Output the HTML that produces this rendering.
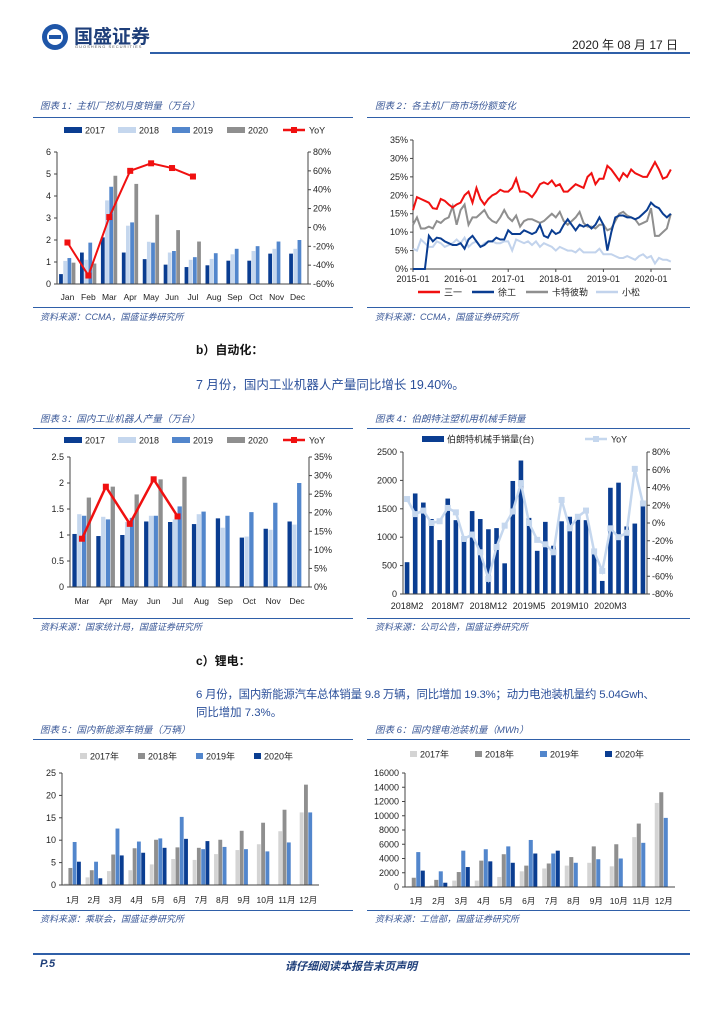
<!DOCTYPE html>
<html><head><meta charset="utf-8"><style>
body{margin:0;background:#fff;}
#page{position:relative;width:724px;height:1024px;overflow:hidden;font-family:"Liberation Sans","Noto Sans CJK SC",sans-serif;}
.t{position:absolute;white-space:nowrap;}
.cap{font-size:9.5px;color:#3b5998;font-style:italic;}
.src{font-size:9px;color:#3b5998;font-style:italic;}
.hl{position:absolute;height:2px;background:#2f5fa8;}
.hl1{position:absolute;height:1px;background:#2f5fa8;}
svg text{font-family:"Liberation Sans","Noto Sans CJK SC",sans-serif;}
</style></head><body>
<div id="page">
<svg style="position:absolute;left:40px;top:22px" width="30" height="30"><circle cx="15" cy="15" r="13" fill="#1f56a8"/><circle cx="15" cy="15" r="8" fill="#fff"/><rect x="9" y="13" width="12" height="4" fill="#1f56a8"/></svg>
<div class="t" style="left:74px;top:22px;font-size:19px;font-weight:bold;color:#1f3f7a;font-family:'Noto Sans CJK SC',sans-serif">国盛证券</div>
<div class="t" style="left:75px;top:44px;font-size:4px;color:#555;letter-spacing:1px">GUOSHENG SECURITIES</div>
<div class="hl" style="left:150px;top:52px;width:540px"></div>
<div class="t" style="left:572px;top:36px;font-size:12px;color:#222">2020 年 08 月 17 日</div>

<div class="t cap" style="left:40px;top:98px">图表 1：主机厂挖机月度销量（万台）</div>
<div class="t cap" style="left:375px;top:98px">图表 2：各主机厂商市场份额变化</div>
<div class="hl1" style="left:33px;top:117px;width:320px"></div><div class="hl1" style="left:367px;top:117px;width:323px"></div>
<div class="hl1" style="left:33px;top:307px;width:320px"></div><div class="hl1" style="left:367px;top:307px;width:323px"></div>
<div class="t src" style="left:40px;top:310px">资料来源：CCMA，国盛证券研究所</div>
<div class="t src" style="left:375px;top:310px">资料来源：CCMA，国盛证券研究所</div>

<div class="t" style="left:196px;top:341px;font-size:12px;font-weight:bold;color:#111">b）自动化：</div>
<div class="t" style="left:196px;top:374px;font-size:12.5px;color:#2a4f9a">7 月份，国内工业机器人产量同比增长 19.40%。</div>

<div class="t cap" style="left:40px;top:411px">图表 3：国内工业机器人产量（万台）</div>
<div class="t cap" style="left:375px;top:411px">图表 4：伯朗特注塑机用机械手销量</div>
<div class="hl1" style="left:33px;top:428px;width:320px"></div><div class="hl1" style="left:367px;top:428px;width:323px"></div>
<div class="hl1" style="left:33px;top:618px;width:320px"></div><div class="hl1" style="left:367px;top:618px;width:323px"></div>
<div class="t src" style="left:40px;top:620px">资料来源：国家统计局，国盛证券研究所</div>
<div class="t src" style="left:375px;top:620px">资料来源：公司公告，国盛证券研究所</div>

<div class="t" style="left:196px;top:652px;font-size:12px;font-weight:bold;color:#111">c）锂电：</div>
<div class="t" style="left:196px;top:686px;font-size:11.4px;letter-spacing:-0.2px;color:#2a4f9a">6 月份，国内新能源汽车总体销量 9.8 万辆，同比增加 19.3%；动力电池装机量约 5.04Gwh、</div>
<div class="t" style="left:196px;top:704px;font-size:11.4px;color:#2a4f9a">同比增加 7.3%。</div>

<div class="t cap" style="left:40px;top:722px">图表 5：国内新能源车销量（万辆）</div>
<div class="t cap" style="left:375px;top:722px">图表 6：国内锂电池装机量（MWh）</div>
<div class="hl1" style="left:33px;top:739px;width:320px"></div><div class="hl1" style="left:367px;top:739px;width:323px"></div>
<div class="hl1" style="left:33px;top:910px;width:320px"></div><div class="hl1" style="left:367px;top:910px;width:323px"></div>
<div class="t src" style="left:40px;top:912px">资料来源：乘联会，国盛证券研究所</div>
<div class="t src" style="left:375px;top:912px">资料来源：工信部，国盛证券研究所</div>

<div class="hl" style="left:33px;top:953px;width:657px"></div>
<div class="t" style="left:40px;top:958px;font-size:11px;font-weight:bold;font-style:italic;color:#1f3f7a">P.5</div>
<div class="t" style="left:285px;top:958px;font-size:11px;font-weight:bold;font-style:italic;color:#1f3f7a">请仔细阅读本报告末页声明</div>

<svg id="charts" width="724" height="1024" style="position:absolute;left:0;top:0"></svg>
</div>
<script>
// ---- Chart 1 data ----
const c1Months=["Jan","Feb","Mar","Apr","May","Jun","Jul","Aug","Sep","Oct","Nov","Dec"];
const c1S2017=[0.45,1.43,2.12,1.43,1.13,0.88,0.77,0.85,1.06,1.06,1.38,1.38];
const c1S2018=[1.05,1.1,3.8,2.65,1.92,1.43,1.1,1.14,1.35,1.5,1.6,1.6];
const c1S2019=[1.18,1.88,4.42,2.8,1.88,1.5,1.22,1.4,1.6,1.72,1.93,2.0];
const c1S2020=[0.97,0.93,4.92,4.55,3.15,2.45,1.93];
const c1YoY=[-16,-51,11,60,68,63,54];
const c1LeftTicks=[0,1,2,3,4,5,6];
const c1RightTicks=[-60,-40,-20,0,20,40,60,80];
// ---- Chart 2 data ----
const c2Years=["2015-01","2016-01","2017-01","2018-01","2019-01","2020-01"];
const c2Sany=[16,19.5,19,18.5,18,16.5,16.3,19,18.5,17.5,16.7,17.5, 18,20,21,18,22,19,17.5,19,20,20.5,21.5,21, 21,22,24.5,21,21,20.5,19.5,21,23,23.5,23,24, 22.5,23,21,21,22,23,22.5,22,25,26,23,24.5, 24.5,28,27,25.5,24,26,25,27,26,25.5,25,25, 27,29,27,24.5,25,27];
const c2Xcmg=[0,0,0,0,9,7.5,8.5,8.3,7.5,7,6.5,6.5, 7,5.5,8,9,7.5,6,6.5,7.5,7.5,8.5,8,8, 10.5,9.5,9.5,9.5,10.5,10,9.5,10,12,9,8.5,10.5, 9.5,10,12,13.5,12,10.5,12,11.5,12,11,12,14, 12,5,10,14,14.5,14.5,14,14,13.5,14,15,16, 18,17,16.5,15,14,15];
const c2Cat=[12,14,11,11,11.5,11,13,12.5,13.5,14,17,12, 16,17.5,12,14,14,15,16,14,13,12.5,14,16, 14,13,14.5,11.5,13,13.5,13.5,13,12.5,13,14,15, 14,15.5,13,12,13,14,15.5,12.5,11.5,11.5,11,12, 12,10.5,11,13,15,15.5,14.5,14,13.5,12,12.5,13, 16.5,9,9,10,11,15];
const c2Komatsu=[5.5,5,8,7,6,6,7.5,7,6,6.5,7,8, 7,8.5,6,7,7.5,6,7,7.5,7.5,7,7,7.5, 7.5,5,8,7.5,7,7.5,6.5,7.5,6,7,6.5,6, 5,6,5.5,5,5,4.5,5.5,4.5,4.5,4.5,4.5,5.5, 4,4,4,3.5,3,3,3.5,3,2.5,3.5,4,3, 3.5,1.5,3,2.5,2.5,2];
const c2Ticks=[0,5,10,15,20,25,30,35];
// ---- Chart 3 data ----
const c3Months=["Mar","Apr","May","Jun","Jul","Aug","Sep","Oct","Nov","Dec"];
const c3S2017=[1.02,0.98,1.0,1.26,1.25,1.21,1.32,0.95,1.12,1.26];
const c3S2018=[1.4,1.35,1.25,1.37,1.3,1.4,1.14,0.97,1.1,1.2];
const c3S2019=[1.37,1.3,1.33,1.37,1.55,1.45,1.37,1.44,1.62,2.0];
const c3S2020=[1.72,1.93,1.78,2.07,2.12];
const c3YoY=[13,27,17,29,19];
const c3LeftTicks=[0,0.5,1,1.5,2,2.5];
const c3RightTicks=[0,5,10,15,20,25,30,35];
// ---- Chart 4 data ----
const c4Labels=["2018M2","2018M7","2018M12","2019M5","2019M10","2020M3"];
const c4Sales=[560,1770,1610,1320,950,1680,1300,930,1460,1320,1140,1160,540,1990,2350,1340,760,1270,850,1280,1360,1310,1300,700,230,1870,1960,1190,1240,1560];
const c4YoY=[27,10,14,0,2,17,12,-18,-13,-33,-63,-27,-3,13,45,0,-19,-24,-33,26,-6,7,14,-32,-54,-6,-16,-11,61,22];
const c4LeftTicks=[0,500,1000,1500,2000,2500];
const c4RightTicks=[-80,-60,-40,-20,0,20,40,60,80];
// ---- Chart 5 data ----
const c5Months=["1月","2月","3月","4月","5月","6月","7月","8月","9月","10月","11月","12月"];
const c5S2017=[0.3,1.7,3.1,3.3,4.6,5.8,5.6,6.9,7.8,9.1,12,16.2];
const c5S2018=[3.8,3.3,6.8,8.2,10.1,8.4,8.3,10.1,12.1,13.9,16.8,22.4];
const c5S2019=[9.6,5.2,12.6,9.7,10.4,15.2,8,8.5,8,7.5,9.5,16.2];
const c5S2020=[5.2,1.5,6.6,7.2,8.3,10.3,9.8];
const c5Ticks=[0,5,10,15,20,25];
// ---- Chart 6 data ----
const c6S2017=[100,200,900,900,1400,2200,2600,3000,3400,2900,7000,11800];
const c6S2018=[1300,1000,2100,3700,4600,3000,3300,4200,5700,6000,8900,13300];
const c6S2019=[4900,2200,5100,5300,5700,6600,4700,3400,3900,4000,6200,9700];
const c6S2020=[2300,600,2800,3600,3400,4700,5100];
const c6Ticks=[0,2000,4000,6000,8000,10000,12000,14000,16000];

const NS="http://www.w3.org/2000/svg";
const root=document.getElementById('charts');
function mk(tag,attrs,parent){const e=document.createElementNS(NS,tag);for(const k in attrs)e.setAttribute(k,attrs[k]);(parent||root).appendChild(e);return e;}
function txt(x,y,s,size,anchor,parent,color){const e=mk('text',{x:x,y:y,'font-size':size||9,'text-anchor':anchor||'middle',fill:color||'#222'},parent);e.textContent=s;return e;}
function lin(d0,d1,r0,r1){return v=>r0+(v-d0)/(d1-d0)*(r1-r0);}
const DB="#0a3d91",LB="#c5d7ee",MB="#5286cc",GR="#8f8f8f",LG="#d4d4d4",RED="#f01010";

function axes(g,x0,x1,y0,y1){mk('line',{x1:x0,y1:y0,x2:x0,y2:y1,stroke:'#444','stroke-width':1},g);mk('line',{x1:x0,y1:y0,x2:x1,y2:y0,stroke:'#444','stroke-width':1},g);}
function leftTicks(g,ticks,ys,x0,fmt){ticks.forEach(t=>{mk('line',{x1:x0-3,y1:ys(t),x2:x0,y2:ys(t),stroke:'#444'},g);txt(x0-6,ys(t)+3,fmt?fmt(t):t,9,'end',g);});}
function rightTicks(g,ticks,ys,x1,y0,y1){mk('line',{x1:x1,y1:y0,x2:x1,y2:y1,stroke:'#444'},g);ticks.forEach(t=>{mk('line',{x1:x1,y1:ys(t),x2:x1+3,y2:ys(t),stroke:'#444'},g);txt(x1+5,ys(t)+3,t+'%',9,'start',g);});}
function groupedBars(g,series,colors,names,x0,x1,ys,n,bwf){const cw=(x1-x0)/n,bw=cw*bwf;series.forEach((s,si)=>{s.forEach((v,i)=>{const cx=x0+cw*(i+0.5)+(si-(series.length-1)/2)*bw;const r=mk('rect',{x:cx-bw/2,y:ys(v),width:bw*0.9,height:ys(0)-ys(v),fill:colors[si]},g);});});return cw;}
function line(g,vals,xf,ys,color,w,marker,name){const pts=vals.map((v,i)=>xf(i)+','+ys(v)).join(' ');const p=mk('polyline',{points:pts,fill:'none',stroke:color,'stroke-width':w},g);if(marker)vals.forEach((v,i)=>{const m=mk('rect',{x:xf(i)-3,y:ys(v)-3,width:6,height:6,fill:color},g);});}
function legBox(g,x,y,color,label,w){mk('rect',{x:x,y:y-4,width:w||18,height:6,fill:color},g);txt(x+(w||18)+3,y+2.5,label,9,'start',g);}
function legLine(g,x,y,color,label,mark){mk('line',{x1:x,y1:y-1,x2:x+22,y2:y-1,stroke:color,'stroke-width':2.5},g);if(mark)mk('rect',{x:x+8,y:y-4,width:6,height:6,fill:color},g);txt(x+26,y+2.5,label,9,'start',g);}

// Chart 1
(function(){const g=mk('g',{});
const x0=57,x1=308,y0=284,y1=152;const ys=lin(0,6,y0,y1),yr=lin(-60,80,y0,y1);
groupedBars(g,[c1S2017,c1S2018,c1S2019,c1S2020],[DB,LB,MB,GR],['s2017','s2018','s2019','s2020'],x0,x1,ys,12,0.2);
axes(g,x0,x1,y0,y1);leftTicks(g,c1LeftTicks,ys,x0);rightTicks(g,c1RightTicks,yr,x1,y0,y1);
const cw=(x1-x0)/12;c1Months.forEach((m,i)=>txt(x0+cw*(i+0.5),300,m,8.5,'middle',g));
line(g,c1YoY,i=>x0+cw*(i+0.5),yr,RED,2,true,'yoy-line');
legBox(g,64,131,DB,'2017');legBox(g,118,131,LB,'2018');legBox(g,172,131,MB,'2019');legBox(g,227,131,GR,'2020');legLine(g,283,131,RED,'YoY',true);})();

// Chart 2
(function(){const g=mk('g',{});
const x0=413,x1=671,y0=269,y1=140;const ys=lin(0,35,y0,y1);const xm=i=>x0+i*(47.6/12);
axes(g,x0,x1,y0,y1);c2Ticks.forEach(t=>{mk('line',{x1:x0-3,y1:ys(t),x2:x0,y2:ys(t),stroke:'#444'},g);txt(x0-5,ys(t)+3,t+'%',9,'end',g);});
c2Years.forEach((y,i)=>{const x=xm(i*12);mk('line',{x1:x,y1:y0,x2:x,y2:y0+3,stroke:'#444'},g);txt(x,y0+13,y,9,'middle',g);});
line(g,c2Komatsu,xm,ys,'#c2d3ec',2,false,'komatsu-line');line(g,c2Cat,xm,ys,'#8f8f8f',2,false,'caterpillar-line');line(g,c2Xcmg,xm,ys,'#0a3d91',2,false,'xcmg-line');line(g,c2Sany,xm,ys,RED,2,false,'sany-line');
legLine(g,418,293,RED,'三一');legLine(g,472,293,DB,'徐工');legLine(g,526,293,GR,'卡特彼勒');legLine(g,596,293,'#c2d3ec','小松');})();

// Chart 3
(function(){const g=mk('g',{});
const x0=70,x1=309,y0=587,y1=457;const ys=lin(0,2.5,y0,y1),yr=lin(0,35,y0,y1);
groupedBars(g,[c3S2017,c3S2018,c3S2019,c3S2020],[DB,LB,MB,GR],['s2017','s2018','s2019','s2020'],x0,x1,ys,10,0.2);
axes(g,x0,x1,y0,y1);leftTicks(g,c3LeftTicks,ys,x0);rightTicks(g,c3RightTicks,yr,x1,y0,y1);
const cw=(x1-x0)/10;c3Months.forEach((m,i)=>txt(x0+cw*(i+0.5),604,m,8.5,'middle',g));
line(g,c3YoY,i=>x0+cw*(i+0.5),yr,RED,2.5,true,'yoy-line');
legBox(g,64,441,DB,'2017');legBox(g,118,441,LB,'2018');legBox(g,172,441,MB,'2019');legBox(g,227,441,GR,'2020');legLine(g,283,441,RED,'YoY',true);})();

// Chart 4
(function(){const g=mk('g',{});
const x0=403,x1=647,y0=594,y1=452;const ys=lin(0,2500,y0,y1),yr=lin(-80,80,y0,y1);const n=c4Sales.length,cw=(x1-x0)/n;const xc=i=>x0+cw*(i+0.5);
c4Sales.forEach((v,i)=>{const r=mk('rect',{x:xc(i)-2.3,y:ys(v),width:4.6,height:y0-ys(v),fill:'#0a3d91'},g);});
line(g,c4YoY,xc,yr,'#c5d7ee',2.5,true,'yoy-line');
axes(g,x0,x1,y0,y1);leftTicks(g,c4LeftTicks,ys,x0);rightTicks(g,c4RightTicks,yr,x1,y0,y1);
c4Labels.forEach((l,i)=>txt(xc(i*5),609,l,9,'middle',g));
legBox(g,422,440,DB,'伯朗特机械手销量(台)',22);legLine(g,585,440,'#c5d7ee','YoY',true);})();

// Chart 5
(function(){const g=mk('g',{});
const x0=62,x1=319,y0=885,y1=773;const ys=lin(0,25,y0,y1);
groupedBars(g,[c5S2017,c5S2018,c5S2019,c5S2020],[LG,GR,MB,DB],['s2017','s2018','s2019','s2020'],x0,x1,ys,12,0.2);
axes(g,x0,x1,y0,y1);leftTicks(g,c5Ticks,ys,x0);const cw=(x1-x0)/12;c5Months.forEach((m,i)=>txt(x0+cw*(i+0.5),903,m,8.5,'middle',g));
legBox(g,80,757,LG,'2017年',7);legBox(g,138,757,GR,'2018年',7);legBox(g,196,757,MB,'2019年',7);legBox(g,254,757,DB,'2020年',7);})();

// Chart 6
(function(){const g=mk('g',{});
const x0=405,x1=675,y0=887,y1=773;const ys=lin(0,16000,y0,y1);
groupedBars(g,[c6S2017,c6S2018,c6S2019,c6S2020],[LG,GR,MB,DB],['s2017','s2018','s2019','s2020'],x0,x1,ys,12,0.2);
axes(g,x0,x1,y0,y1);leftTicks(g,c6Ticks,ys,x0);const cw=(x1-x0)/12;c5Months.forEach((m,i)=>txt(x0+cw*(i+0.5),904,m,8.5,'middle',g));
legBox(g,410,755,LG,'2017年',7);legBox(g,475,755,GR,'2018年',7);legBox(g,540,755,MB,'2019年',7);legBox(g,605,755,DB,'2020年',7);})();
</script>
</body></html>
